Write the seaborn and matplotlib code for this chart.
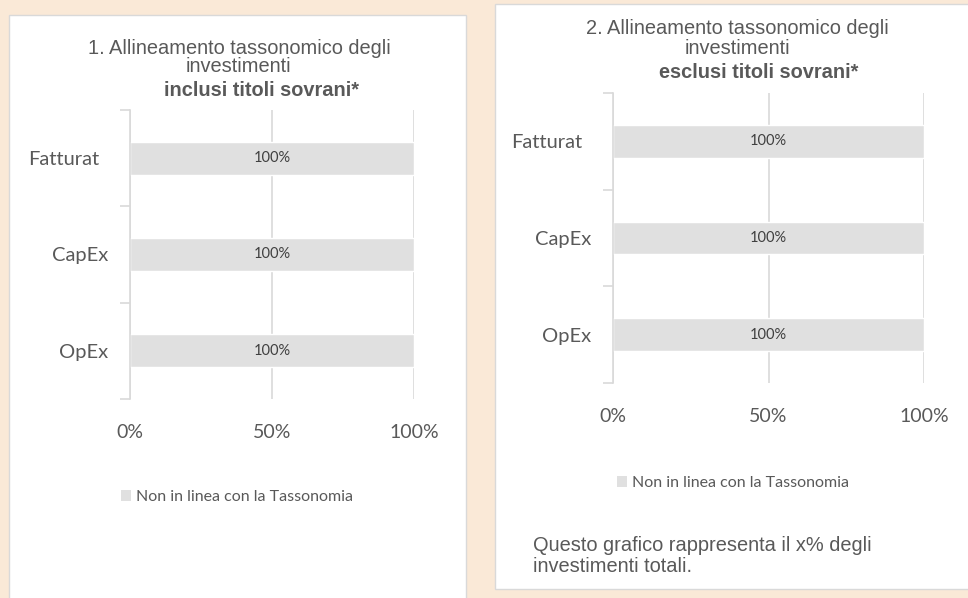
import matplotlib
matplotlib.use("Agg")
import matplotlib.pyplot as plt
import matplotlib.transforms as mtrans
from matplotlib.patches import Rectangle, Patch
import seaborn as sns

# dati del grafico
categorie = ["Fatturat", "CapEx", "OpEx"]
incl_sovrani = [100, 100, 100]
escl_sovrani = [100, 100, 100]
x_ticks = [0, 50, 100]
x_tick_labels = ["0%", "50%", "100%"]
legenda = "Non in linea con la Tassonomia"
titolo_1 = ["1. Allineamento tassonomico degli", "investimenti", "inclusi titoli sovrani*"]
titolo_2 = ["2. Allineamento tassonomico degli", "investimenti", "esclusi titoli sovrani*"]
nota = "Questo grafico rappresenta il x% degli\ninvestimenti totali."

sns.set_theme(style="white")
plt.rcParams['font.family'] = ['Lato', 'DejaVu Sans']

W, H = 968, 598
BAR = "#E0E0E0"
GRIGIO = "#D9D9D9"
TESTO = "#595959"

fig = plt.figure(figsize=(W / 100, H / 100), dpi=100, facecolor="#FAE9D7")


def box(x0, y0, x1, y1):
    # pixel -> frazioni della figura
    return [x0 / W, 1 - y1 / H, (x1 - x0) / W, (y1 - y0) / H]


# pannelli bianchi
for x0, y0, x1, y1 in [(9, 15, 466, 610), (495, 4, 980, 589)]:
    b = box(x0, y0, x1, y1)
    fig.add_artist(Rectangle((b[0], b[1]), b[2], b[3], transform=fig.transFigure,
                             facecolor="white", edgecolor=GRIGIO, lw=1, zorder=-5))


def disegna(ax, valori):
    sns.barplot(x=valori, y=categorie, orient="h", color=BAR, saturation=1,
                width=0.34, ax=ax, zorder=2)
    ax.set_facecolor("none")
    ax.set_xlim(0, 100)
    ax.set_ylim(2.5, -0.5)
    ax.set_xticks(x_ticks)
    ax.set_xticklabels(x_tick_labels)
    ax.set_xlabel("")
    ax.set_ylabel("")
    ax.xaxis.grid(True, color=GRIGIO, lw=1.2, zorder=0)
    ax.set_axisbelow(True)
    for s in ["top", "right", "bottom"]:
        ax.spines[s].set_visible(False)
    ax.spines["left"].set_color(GRIGIO)
    ax.spines["left"].set_linewidth(1.2)
    ax.set_yticks([-0.5, 0.5, 1.5, 2.5], minor=True)
    ax.tick_params(axis="y", which="minor", length=7, width=1.2, color=GRIGIO, left=True)
    ax.tick_params(axis="y", which="major", length=0, pad=16, labelsize=14.5, labelcolor=TESTO)
    ax.tick_params(axis="x", length=0, pad=18, labelsize=14, labelcolor=TESTO)
    # "Fatturat" e' tagliato nell'originale, quindi sta un po' piu' a sinistra
    lab = ax.get_yticklabels()[0]
    lab.set_transform(lab.get_transform() + mtrans.ScaledTranslation(-9 / 100, 0, fig.dpi_scale_trans))
    ax.bar_label(ax.containers[0], labels=[f"{v}%" for v in valori],
                 label_type="center", fontsize=10.5, color="#404040")


ax1 = fig.add_axes(box(130, 110, 414, 399))
disegna(ax1, incl_sovrani)
ax2 = fig.add_axes(box(613, 93, 924, 383))
disegna(ax2, escl_sovrani)

# titoli
for righe, xs, ys in [(titolo_1, [239, 238, 261], [48, 67, 91]),
                      (titolo_2, [737, 737, 759], [28, 49, 72])]:
    for i, (t, x, y) in enumerate(zip(righe, xs, ys)):
        fig.text(x / W, 1 - y / H, t, ha="center", va="center", fontsize=14.4, color=TESTO,
                 family=["Liberation Sans", "DejaVu Sans"],
                 fontweight="bold" if i == 2 else "normal")

# legende
for cx, cy in [(237, 497), (733, 483)]:
    fig.legend(handles=[Patch(facecolor=BAR, edgecolor="none")], labels=[legenda],
               loc="center", bbox_to_anchor=(cx / W, 1 - cy / H), frameon=False,
               fontsize=11.5, labelcolor=TESTO, handlelength=0.65, handleheight=0.65,
               handletextpad=0.3)

fig.text(533 / W, 1 - 556 / H, nota, ha="left", va="center", fontsize=14.4, color=TESTO,
         family=["Liberation Sans", "DejaVu Sans"], linespacing=1.1)

fig.savefig("out.png", dpi=100, facecolor=fig.get_facecolor())
